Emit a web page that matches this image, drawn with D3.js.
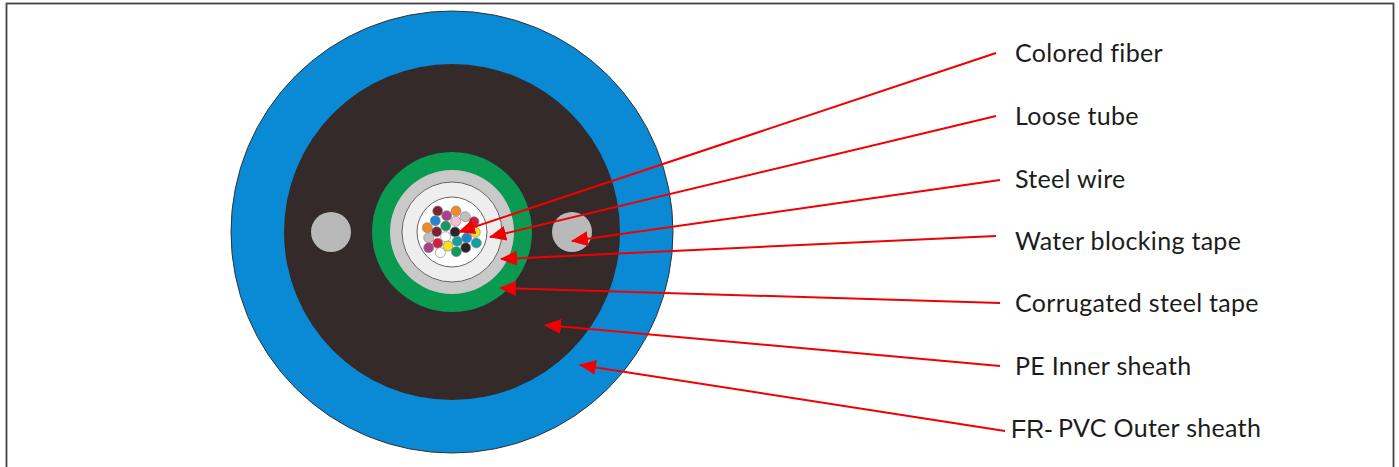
<!DOCTYPE html>
<html>
<head>
<meta charset="utf-8">
<script src="https://d3js.org/d3.v7.min.js"></script>
<style>
html, body { margin: 0; padding: 0; background: #fff; overflow: hidden; }
text { font-family: "Lato", sans-serif; fill: #1c1c1c; }
</style>
</head>
<body>
<svg id="chart" width="1399" height="467"></svg>
<script>
// everything, in units of pixels from the cable centre
var layerNames = ["outer sheath", "inner sheath", "steel tape", "steel tape inner", "water blocking", "loose tube"];
var layerRadius = [221, 168, 80, 62, 50, 35];
var layerColors = ["#0a8ad4", "#352a2a", "#0a9a52", "#c9c9c9", "#eeeeee", "#ffffff"];
var layerStrokes = ["#333", "none", "none", "none", "#666", "#666"];

var wireX = [-121, 120];
var wireRadius = 20;

var fiberColors = ["#7b2430", "#a9408d", "#f08a24", "#c0c0c4", "#1f86cd", "#f7bfd0", "#c8203f", "#0f9a60",
    "#f08a24", "#7b2430", "#2b2426", "#f5e11c", "#c0c0c4", "#ffffff", "#1f86cd", "#10a0a0",
    "#10a0a0", "#d3203c", "#f5e11c", "#a9408d", "#2b2426", "#0f9a60", "#ffffff"];
var fiberX = [-14.3, -5.3, 4, 13.3, -16.7, 3.7, 22, -6.3, -24.7, -15.3, 3, 23.3, -23.3, -6.3, 14.7, 5.3, 24.3, -14.3, -4, -23.3, 13.7, 4.3, -11.7];
var fiberY = [-21, -16.3, -21, -15.3, -11.3, -10.7, -10.3, -6, -4.3, -0.3, 0, 0.3, 5.7, 4.7, 6, 9.3, 11, 11.3, 14, 15.7, 15.7, 19.7, 20.7];
var fiberRadius = 5;

var labels = ["Colored fiber", "Loose tube", "Steel wire", "Water blocking tape", "Corrugated steel tape", "PE Inner sheath", "PVC Outer sheath"];
var labelY = [53, 116, 179, 241, 303, 366, 428];
var lineStartX = [544, 544, 548, 544, 548, 548, 553];
var lineStartY = [-179, -116, -52, 4, 71, 134, 199];
var tipX = [7, 38, 120, 49, 48, 93, 128];
var tipY = [0, 5, 9, 27, 56, 93, 133];

const margin = {left: 231, top: 11};
const width = 1399, height = 467;

const x = d3.scaleLinear().domain([-221, 221]).range([margin.left, margin.left + 442]);
const y = d3.scaleLinear().domain([-221, 221]).range([margin.top, margin.top + 442]);
const r = d3.scaleLinear().domain([0, 221]).range([0, 221]);

const svg = d3.select("#chart");

svg.append("rect")
    .attr("x", 6.5).attr("y", 3.5)
    .attr("width", 1387).attr("height", 480)
    .attr("fill", "#fff")
    .attr("stroke", "#444")
    .attr("stroke-width", 1.8);

svg.append("g").selectAll("circle")
    .data(layerNames)
    .enter().append("circle")
    .attr("cx", x(0))
    .attr("cy", y(0))
    .attr("r", function(d, i) { return r(layerRadius[i]); })
    .attr("fill", function(d, i) { return layerColors[i]; })
    .attr("stroke", function(d, i) { return layerStrokes[i]; })
    .attr("stroke-width", 1);

svg.append("g").selectAll("circle")
    .data(wireX)
    .enter().append("circle")
    .attr("cx", function(d) { return x(d); })
    .attr("cy", y(0))
    .attr("r", r(wireRadius))
    .attr("fill", "#b9b9b9");

svg.append("g").selectAll("circle")
    .data(fiberColors)
    .enter().append("circle")
    .attr("cx", function(d, i) { return x(fiberX[i]); })
    .attr("cy", function(d, i) { return y(fiberY[i]); })
    .attr("r", r(fiberRadius))
    .attr("fill", function(d) { return d; })
    .attr("stroke", "#8a8a8a")
    .attr("stroke-width", 0.7);

svg.append("defs").append("marker")
    .attr("id", "head")
    .attr("markerUnits", "userSpaceOnUse")
    .attr("viewBox", "0 0 17 15")
    .attr("markerWidth", 17).attr("markerHeight", 15)
    .attr("refX", 16).attr("refY", 7.5)
    .attr("orient", "auto")
    .append("path")
    .attr("d", "M0,0L17,7.5L0,15Z")
    .attr("fill", "#f00000");

svg.append("g").selectAll("line")
    .data(labels)
    .enter().append("line")
    .attr("x1", function(d, i) { return x(lineStartX[i]); })
    .attr("y1", function(d, i) { return y(lineStartY[i]); })
    .attr("x2", function(d, i) { return x(tipX[i]); })
    .attr("y2", function(d, i) { return y(tipY[i]); })
    .attr("stroke", "#f00000")
    .attr("stroke-width", 2)
    .attr("marker-end", "url(#head)");

svg.append("g").selectAll("text")
    .data(labels)
    .enter().append("text")
    .attr("x", function(d, i) { return i === 6 ? 1058 : 1015; })
    .attr("y", function(d, i) { return labelY[i]; })
    .attr("dy", "0.35em")
    .style("font-size", "25px")
    .style("letter-spacing", "0.3px")
    .text(function(d) { return d; });

svg.append("text")
    .attr("x", 1011)
    .attr("y", 438)
    .style("font-family", "'Liberation Sans', sans-serif")
    .style("font-size", "25px")
    .text("FR-");
</script>
</body>
</html>
